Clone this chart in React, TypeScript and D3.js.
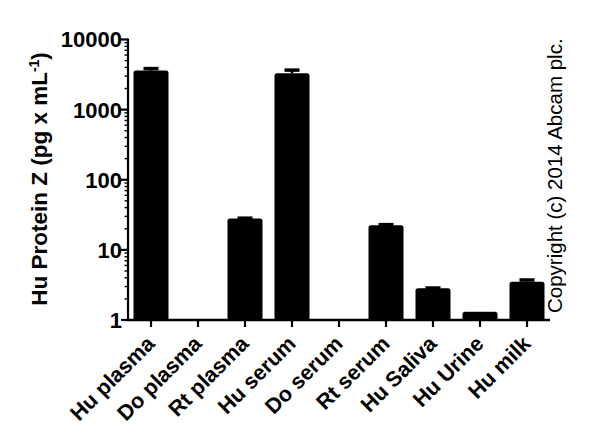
import * as d3 from 'd3'

const categories = ['Hu plasma', 'Do plasma', 'Rt plasma', 'Hu serum', 'Do serum', 'Rt serum', 'Hu Saliva', 'Hu Urine', 'Hu milk']
// mean concentration (pg/mL); null = not detected
const means: (number | null)[] = [3600, null, 28, 3300, null, 22.5, 2.83, 1.31, 3.52]
// upper error (SD)
const errs: (number | null)[] = [250, null, 0.3, 360, null, 0.4, 0.03, 0, 0.2]
const yTickValues = [1, 10, 100, 1000, 10000]

const W = 600
const H = 445
const X0 = 128
const X1 = 550
const Y0 = 320
const Y1 = 39.5
const FONT = 'Arial, "Liberation Sans", Helvetica, sans-serif'

export default function App() {
  const x = d3.scaleBand<string>()
    .domain(categories)
    .range([X0 - 0.5, X1 + 0.5])
    .paddingInner(0.255)
    .paddingOuter(0.1275)

  const y = d3.scaleLog().domain([1, 10000]).range([Y0, Y1])
  const bw = x.bandwidth()

  const minorTicks: number[] = []
  for (let d = 1; d < 10000; d *= 10) {
    for (let k = 2; k <= 9; k++) minorTicks.push(d * k)
  }

  return (
    <svg width={W} height={H} style={{ position: 'absolute', left: 0, top: 0, background: '#fff' }}>
      {/* bars */}
      {categories.map((c, i) => {
        const m = means[i]
        if (m == null) return null
        const bx = x(c) ?? 0
        const top = y(m)
        const r = 2.5
        const d = `M${bx},${Y0} L${bx},${top + r} Q${bx},${top} ${bx + r},${top} L${bx + bw - r},${top} Q${bx + bw},${top} ${bx + bw},${top + r} L${bx + bw},${Y0} Z`
        const e = errs[i] ?? 0
        const cx = bx + bw / 2
        const et = y(m + e)
        return (
          <g key={c}>
            <path d={d} fill="#000" />
            {e > 0 && (
              <g>
                <line x1={cx} x2={cx} y1={top} y2={et} stroke="#000" strokeWidth={2.5} />
                <line x1={cx - 7.5} x2={cx + 7.5} y1={et} y2={et} stroke="#000" strokeWidth={3.5} />
              </g>
            )}
          </g>
        )
      })}

      {/* y axis */}
      <line x1={X0} x2={X0} y1={Y1 - 1} y2={Y0 + 1} stroke="#000" strokeWidth={2.2} />
      {minorTicks.map((t) => (
        <line key={`m${t}`} x1={X0 - 3.5} x2={X0} y1={y(t)} y2={y(t)} stroke="#000" strokeWidth={1.4} />
      ))}
      {yTickValues.map((t) => (
        <g key={t}>
          <line x1={X0 - 7} x2={X0} y1={y(t)} y2={y(t)} stroke="#000" strokeWidth={2.2} />
          <text
            x={X0 - 6}
            y={y(t)}
            dy="0.36em"
            textAnchor="end"
            fontFamily={FONT}
            fontWeight="bold"
            fontSize={22}
          >
            {t}
          </text>
        </g>
      ))}

      {/* x axis */}
      <line x1={X0 - 1} x2={X1} y1={Y0} y2={Y0} stroke="#000" strokeWidth={2.4} />
      {categories.map((c) => {
        const cx = (x(c) ?? 0) + bw / 2
        return (
          <g key={c}>
            <line x1={cx} x2={cx} y1={Y0} y2={Y0 + 7} stroke="#000" strokeWidth={2.2} />
            <text
              transform={`translate(${cx + 5},${Y0 + 25}) rotate(-45)`}
              textAnchor="end"
              fontFamily={FONT}
              fontWeight="bold"
              fontSize={21.5}
            >
              {c}
            </text>
          </g>
        )
      })}

      {/* y title */}
      <text
        transform={`translate(47,179) rotate(-90)`}
        textAnchor="middle"
        fontFamily={FONT}
        fontWeight="bold"
        fontSize={22.5}
      >
        Hu Protein Z (pg x mL
        <tspan dy="-8" fontSize={14}>-1</tspan>
        <tspan dy="8">)</tspan>
      </text>

      {/* copyright */}
      <text
        transform={`translate(561.5,313) rotate(-90)`}
        textAnchor="start"
        fontFamily={FONT}
        fontSize={20.5}
      >
        Copyright (c) 2014 Abcam plc.
      </text>
    </svg>
  )
}
